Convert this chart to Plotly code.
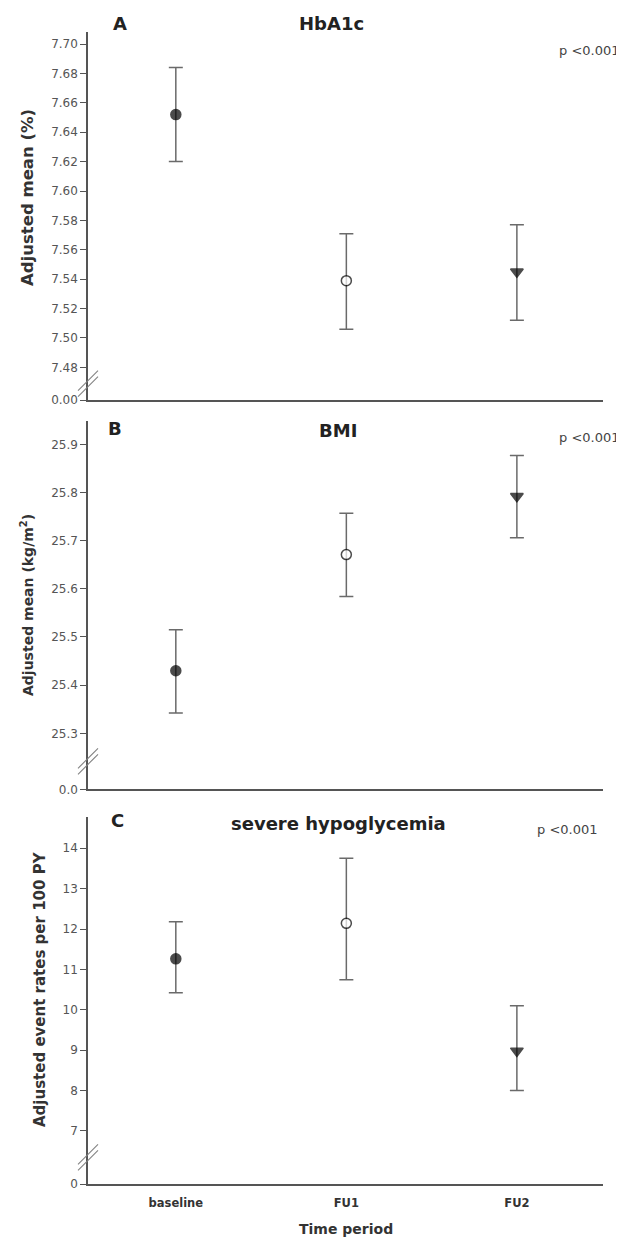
import plotly.graph_objects as go

# ---------------- data ----------------
categories = ["baseline", "FU1", "FU2"]

hba1c_mean = [7.652, 7.539, 7.545]
hba1c_lo = [7.620, 7.506, 7.512]
hba1c_hi = [7.684, 7.571, 7.577]

bmi_mean = [25.430, 25.671, 25.792]
bmi_lo = [25.342, 25.584, 25.706]
bmi_hi = [25.515, 25.757, 25.877]

hypo_mean = [11.26, 12.14, 8.98]
hypo_lo = [10.42, 10.74, 8.00]
hypo_hi = [12.18, 13.75, 10.10]

hba1c_ticks = [7.48, 7.50, 7.52, 7.54, 7.56, 7.58, 7.60, 7.62, 7.64, 7.66, 7.68, 7.70]
bmi_ticks = [25.3, 25.4, 25.5, 25.6, 25.7, 25.8, 25.9]
hypo_ticks = [7, 8, 9, 10, 11, 12, 13, 14]
break_labels = ["0.00", "0.0", "0"]
tick_fmt = ["{:.2f}", "{:.1f}", "{:.0f}"]

panel_letters = ["A", "B", "C"]
panel_titles = ["HbA1c", "BMI", "severe hypoglycemia"]
y_titles = ["Adjusted mean (%)", "Adjusted mean (kg/m<sup>2</sup>)", "Adjusted event rates per 100 PY"]
p_text = "p <0.001"
x_title = "Time period"

# ---------------- layout geometry ----------------
# page has an 8px body margin, so the figure is shrunk by that amount
OFF = 8
W, H = 624 - OFF, 1241 - OFF
PLOT_L, PLOT_R, PLOT_T, PLOT_B = 88, 603, 32, 1184   # in page pixels
ML = PLOT_L - OFF
MT = PLOT_T - OFF
MR = W - (PLOT_R - OFF)
MB = H - (PLOT_B - OFF)
PW = PLOT_R - PLOT_L
PH = PLOT_B - PLOT_T


def px(x):
    return (x - PLOT_L) / PW


def py(y):
    return (PLOT_B - y) / PH


domains = [[py(400), 1.0], [py(789.3), py(420.7)], [0.0, py(816.7)]]
yranges = [[7.4578, 7.7082], [25.1838, 25.949], [5.683, 14.782]]
xrange_ = [-0.515, 2.505]

FONT = "DejaVu Sans"
AXC = "#555555"
symbols = ["circle", "circle", "triangle-down"]
fills = ["black", "white", "black"]

fig = go.Figure()

panels = [
    (hba1c_mean, hba1c_lo, hba1c_hi, hba1c_ticks),
    (bmi_mean, bmi_lo, bmi_hi, bmi_ticks),
    (hypo_mean, hypo_lo, hypo_hi, hypo_ticks),
]

shapes = []
for i, (m, lo, hi, ticks) in enumerate(panels):
    sfx = "" if i == 0 else str(i + 1)
    fig.add_trace(go.Scatter(
        x=categories, y=m, mode="markers",
        xaxis="x" + sfx, yaxis="y" + sfx,
        error_y=dict(type="data", symmetric=False,
                     array=[h - v for h, v in zip(hi, m)],
                     arrayminus=[v - l for v, l in zip(m, lo)],
                     color="#6a6a6a", thickness=1.5, width=7),
        marker=dict(symbol=symbols, color=fills, size=[10, 10, 11],
                    line=dict(color="black", width=1.5)),
        showlegend=False, hoverinfo="skip"))

    ymin = yranges[i][0]
    tickvals = [ymin] + ticks
    ticktext = [break_labels[i]] + [tick_fmt[i].format(t) for t in ticks]
    fig.layout["yaxis" + sfx] = dict(
        domain=domains[i], range=yranges[i], anchor="x" + sfx,
        tickvals=tickvals, ticktext=ticktext, automargin=False,
        showline=True, linecolor=AXC, linewidth=1.5,
        ticks="outside", ticklen=6, tickwidth=1, tickcolor=AXC,
        showgrid=False, zeroline=False,
        tickfont=dict(family=FONT, size=12, color="#555555"))
    fig.layout["xaxis" + sfx] = dict(
        domain=[0, 1], range=xrange_, anchor="y" + sfx, type="category",
        showline=True, linecolor=AXC, linewidth=1.5, automargin=False,
        showgrid=False, zeroline=False,
        showticklabels=(i == 2),
        ticks="outside" if i == 2 else "", ticklen=7,
        tickcolor="rgba(0,0,0,0)",
        tickfont=dict(family=FONT, size=11.5, color="#333333", weight="bold"))

    # axis break marks
    bval = (ymin + min(ticks)) / 2
    for off in (-3, 3):
        shapes.append(dict(
            type="line", xref="paper", yref="y" + sfx,
            xsizemode="pixel", ysizemode="pixel",
            xanchor=0, yanchor=bval,
            x0=-10, x1=10, y0=-10 + off, y1=10 + off,
            line=dict(color="#808080", width=1.1)))

fig.update_layout(shapes=shapes)

ann = []
letter_pos = [(120, 23), (115, 428), (117, 821)]
title_pos = [(331, 23), (338, 430), (338, 823)]
p_pos = [(622, 50), (622, 437), (600, 830)]
ytitle_pos = [(27, 198, 16.5), (27, 605, 14), (40, 989, 15)]
for i in range(3):
    ann.append(dict(text="<b>%s</b>" % panel_letters[i], x=px(letter_pos[i][0]), y=py(letter_pos[i][1]),
                    xref="paper", yref="paper", showarrow=False, xanchor="center", yanchor="middle",
                    font=dict(family=FONT, size=18, color="#222222")))
    ann.append(dict(text="<b>%s</b>" % panel_titles[i], x=px(title_pos[i][0]), y=py(title_pos[i][1]),
                    xref="paper", yref="paper", showarrow=False, xanchor="center", yanchor="middle",
                    font=dict(family=FONT, size=18, color="#222222")))
    ann.append(dict(text=p_text, x=px(p_pos[i][0]), y=py(p_pos[i][1]),
                    xref="paper", yref="paper", showarrow=False, xanchor="right", yanchor="middle",
                    font=dict(family=FONT, size=13, color="#444444")))
    ann.append(dict(text="<b>%s</b>" % y_titles[i], x=px(ytitle_pos[i][0]), y=py(ytitle_pos[i][1]),
                    xref="paper", yref="paper", showarrow=False, xanchor="center", yanchor="middle",
                    textangle=-90, font=dict(family=FONT, size=ytitle_pos[i][2], color="#333333")))
ann.append(dict(text="<b>%s</b>" % x_title, x=px(346), y=py(1229),
                xref="paper", yref="paper", showarrow=False, xanchor="center", yanchor="middle",
                font=dict(family=FONT, size=14, color="#333333")))

fig.update_layout(
    annotations=ann,
    width=W, height=H,
    margin=dict(l=ML, r=MR, t=MT, b=MB),
    paper_bgcolor="white", plot_bgcolor="white",
)

fig.write_html("out.html")
